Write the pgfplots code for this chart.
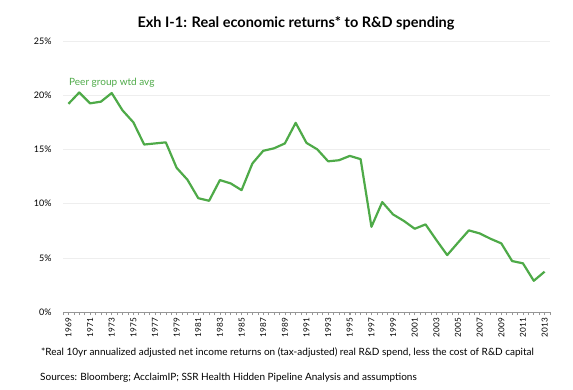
\documentclass[border=0pt]{standalone}
\usepackage{pgfplots}
\pgfplotsset{compat=1.18}
\usepackage{fontspec}
\setmainfont{Lato}
\definecolor{lg}{RGB}{78,170,72}
\definecolor{gridc}{RGB}{238,238,238}
\definecolor{axc}{RGB}{150,150,150}
\begin{document}
\begin{tikzpicture}
\useasboundingbox (0pt,0pt) rectangle (573pt,389pt);
\node[font=\bfseries\fontsize{14.5}{16}\selectfont] at (296pt,366pt) {Exh I-1: Real economic returns* to R\&D spending};
\begin{axis}[
  at={(63pt,77pt)}, anchor=south west,
  scale only axis, width=487pt, height=271pt,
  xmin=1968.5, xmax=2013.5, ymin=0, ymax=25,
  axis x line*=bottom, axis y line*=left,
  y axis line style={draw=none},
  x axis line style={draw=axc, line width=0.6pt},
  ytick={0,5,...,25},
  yticklabels={0\%,5\%,10\%,15\%,20\%,25\%},
  ytick style={draw=none},
  ymajorgrids, major grid style={draw=gridc, line width=0.6pt},
  xtick={1969,1971,...,2013},
  minor xtick={1968.5,1969,...,2013.5},
  tick align=outside,
  major tick length=3pt, minor tick length=3pt,
  xtick style={draw=axc, line width=0.5pt},
  minor x tick style={draw=axc, line width=0.5pt},
  /pgf/number format/1000 sep={},
  /pgf/number format/assume math mode=true,
  xticklabel style={rotate=90, anchor=east, font=\fontsize{8.2}{10}\selectfont, inner sep=3pt},
  yticklabel style={font=\fontsize{9}{10}\selectfont, xshift=-5pt},
  clip=false,
]
\addplot[lg, line width=2.2pt, line join=round] coordinates {
(1969,19.2) (1970,20.25) (1971,19.25) (1972,19.4) (1973,20.2) (1974,18.6) (1975,17.5)
(1976,15.45) (1977,15.55) (1978,15.65) (1979,13.3) (1980,12.2) (1981,10.5) (1982,10.26)
(1983,12.17) (1984,11.86) (1985,11.24) (1986,13.7) (1987,14.87) (1988,15.1) (1989,15.55)
(1990,17.45) (1991,15.6) (1992,15.0) (1993,13.9) (1994,14.0) (1995,14.4) (1996,14.1)
(1997,7.86) (1998,10.14) (1999,9.0) (2000,8.4) (2001,7.68) (2002,8.08) (2003,6.64)
(2004,5.25) (2005,6.4) (2006,7.53) (2007,7.25) (2008,6.76) (2009,6.33) (2010,4.7)
(2011,4.49) (2012,2.88) (2013,3.72)
};
\end{axis}
\node[anchor=west, text=lg, font=\fontsize{10}{11}\selectfont, inner sep=0pt] at (69pt,306pt) {Peer group wtd avg};
\node[anchor=west, font=\fontsize{10}{11}\selectfont, inner sep=0pt] at (41pt,36pt) {*Real 10yr annualized adjusted net income returns on (tax-adjusted) real R\&D spend, less the cost of R\&D capital};
\node[anchor=west, font=\fontsize{10}{11}\selectfont, inner sep=0pt] at (40pt,11pt) {Sources: Bloomberg; AcclaimIP; SSR Health Hidden Pipeline Analysis and assumptions};
\end{tikzpicture}
\end{document}
